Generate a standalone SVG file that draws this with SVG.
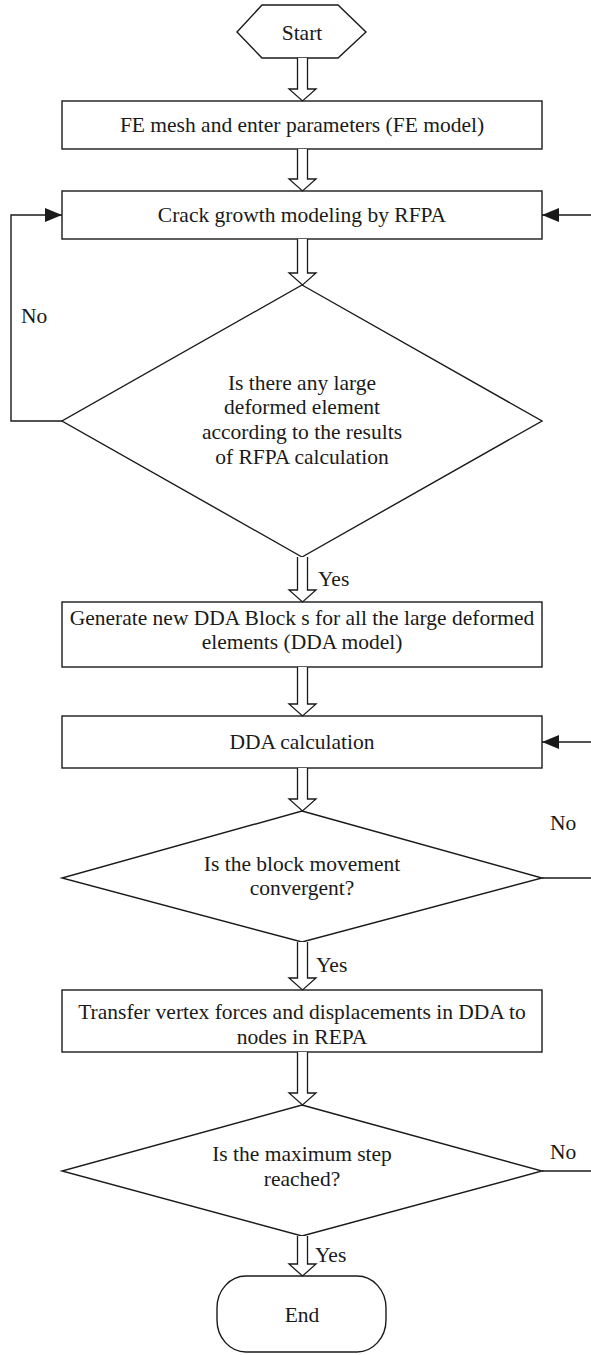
<svg xmlns="http://www.w3.org/2000/svg" width="591" height="1355" viewBox="0 0 591 1355">
<style>
.n{fill:#fff;stroke:#1a1a1a;stroke-width:1.4}
.t{font-family:"Liberation Serif","Times New Roman",serif;font-size:21.5px;fill:#1a1a1a;text-anchor:middle}
.l{font-family:"Liberation Serif","Times New Roman",serif;font-size:21.5px;fill:#1a1a1a}
.h{fill:#fff;stroke:#1a1a1a;stroke-width:1.3}
.c{fill:none;stroke:#1a1a1a;stroke-width:1.4}
</style>
<defs>
<marker id="ah" markerWidth="18" markerHeight="14" refX="17" refY="7" orient="auto" markerUnits="userSpaceOnUse">
<path d="M0,0 L17,7 L0,14 Z" fill="#1a1a1a"/>
</marker>
</defs>
<g id="start">
<polygon class="n" points="237,32 262,5 338,5 366,32 338,58 262,58"/>
<text class="t" x="302" y="40">Start</text>
</g>
<g id="fe-mesh">
<rect class="n" x="62" y="101" width="480" height="48"/>
<text class="t" x="302" y="132">FE mesh and enter parameters (FE model)</text>
</g>
<g id="crack-growth">
<rect class="n" x="62" y="191" width="480" height="48"/>
<text class="t" x="302" y="222">Crack growth modeling by RFPA</text>
</g>
<g id="decision-large">
<polygon class="n" points="302,285 542,421 302,557 62,421"/>
<text class="t" x="302" y="390">Is there any large</text>
<text class="t" x="302" y="414">deformed element</text>
<text class="t" x="302" y="439">according to the results</text>
<text class="t" x="302" y="464">of RFPA calculation</text>
</g>
<g id="generate-dda">
<rect class="n" x="62" y="602" width="480" height="65"/>
<text class="t" x="302" y="625">Generate new DDA Block s for all the large deformed</text>
<text class="t" x="302" y="649">elements (DDA model)</text>
</g>
<g id="dda-calc">
<rect class="n" x="62" y="716" width="480" height="52"/>
<text class="t" x="302" y="749">DDA calculation</text>
</g>
<g id="decision-converge">
<polygon class="n" points="302,811 542,878 302,942 62,878"/>
<text class="t" x="302" y="871">Is the block movement</text>
<text class="t" x="302" y="895">convergent?</text>
</g>
<g id="transfer">
<rect class="n" x="62" y="990" width="480" height="62"/>
<text class="t" x="302" y="1019">Transfer vertex forces and displacements in DDA to</text>
<text class="t" x="302" y="1044">nodes in REPA</text>
</g>
<g id="decision-max">
<polygon class="n" points="302,1105 542,1171 302,1236 62,1171"/>
<text class="t" x="302" y="1161">Is the maximum step</text>
<text class="t" x="302" y="1186">reached?</text>
</g>
<g id="end">
<rect class="n" x="217" y="1276" width="169" height="76" rx="29" ry="32"/>
<text class="t" x="302" y="1322">End</text>
</g>
<g id="connectors">
<path class="h" d="M297.5,58 V89 H289 L302.5,101 L316,89 H307.5 V58"/>
<path class="h" d="M297.5,149 V179 H289 L302.5,191 L316,179 H307.5 V149"/>
<path class="h" d="M297.5,239 V273 H289 L302.5,285 L316,273 H307.5 V239"/>
<path class="h" d="M297.5,557 V590 H289 L302.5,602 L316,590 H307.5 V557"/>
<path class="h" d="M297.5,667 V704 H289 L302.5,716 L316,704 H307.5 V667"/>
<path class="h" d="M297.5,768 V799 H289 L302.5,811 L316,799 H307.5 V768"/>
<path class="h" d="M297.5,942 V978 H289 L302.5,990 L316,978 H307.5 V942"/>
<path class="h" d="M297.5,1052 V1093 H289 L302.5,1105 L316,1093 H307.5 V1052"/>
<path class="h" d="M297.5,1236 V1264 H289 L302.5,1276 L316,1264 H307.5 V1236"/>
<path class="c" d="M62,421 H11 V215 H62" marker-end="url(#ah)"/>
<path class="c" d="M592,215 H542" marker-end="url(#ah)"/>
<path class="c" d="M592,742 H542" marker-end="url(#ah)"/>
<path class="c" d="M542,878 H592"/>
<path class="c" d="M542,1171 H592"/>
<text class="l" x="21" y="323">No</text>
<text class="l" x="318" y="586">Yes</text>
<text class="l" x="550" y="830">No</text>
<text class="l" x="316" y="972">Yes</text>
<text class="l" x="550" y="1159">No</text>
<text class="l" x="315" y="1262">Yes</text>
</g>
</svg>
